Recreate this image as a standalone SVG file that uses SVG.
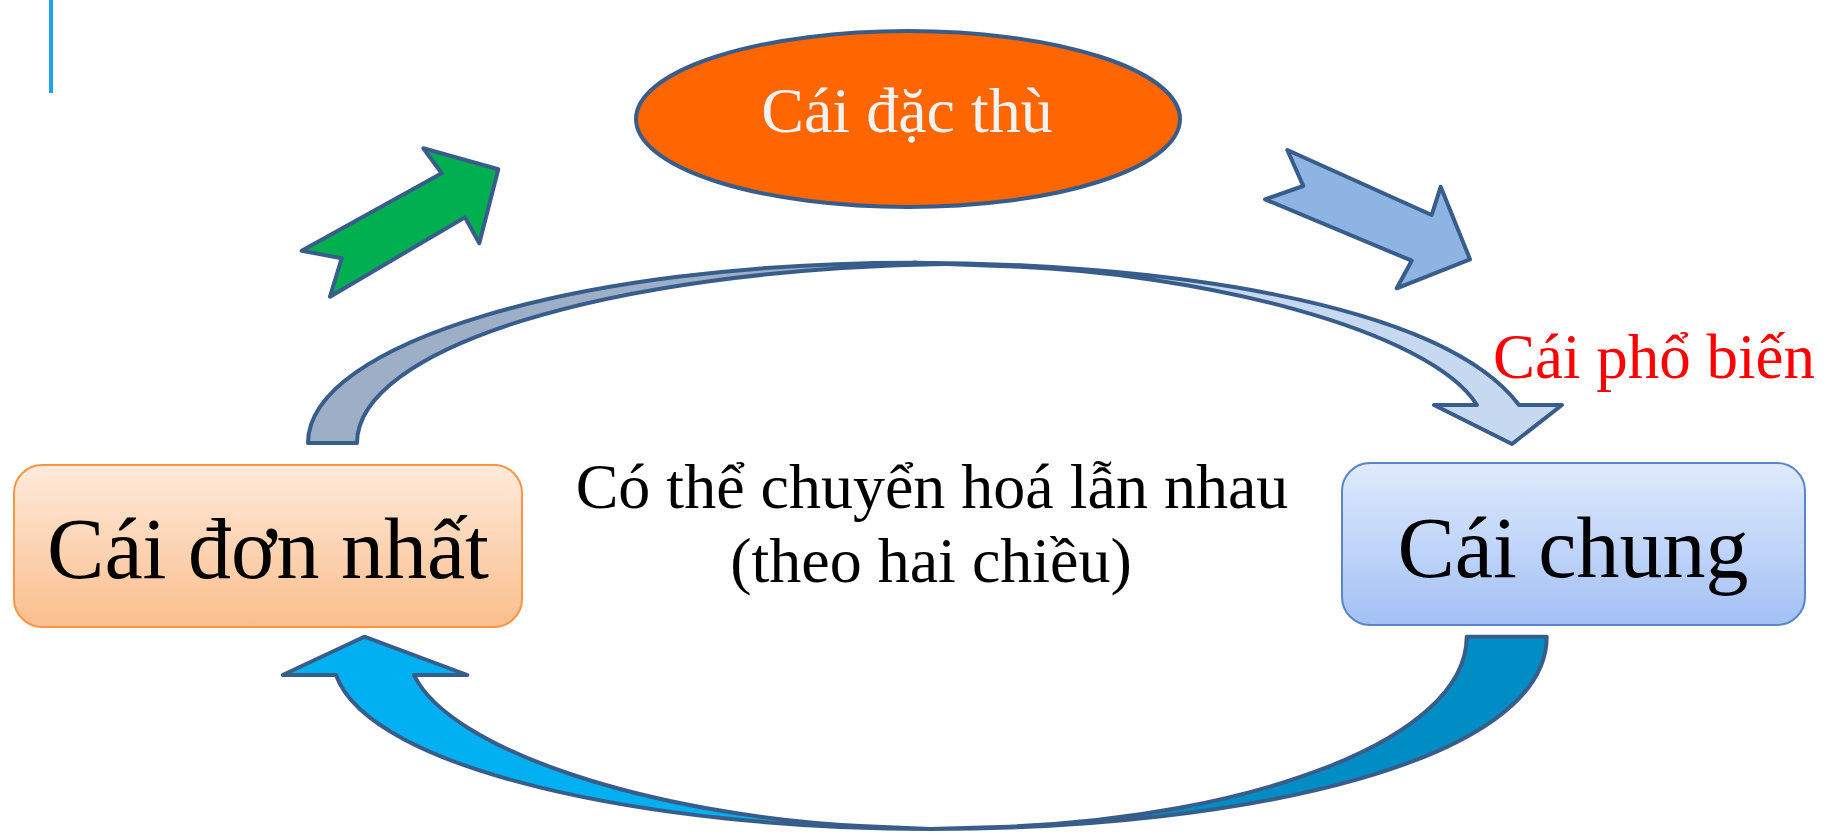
<svg xmlns="http://www.w3.org/2000/svg" width="1825" height="833" viewBox="0 0 1825 833">
<defs>
<linearGradient id="gOrange" x1="0" y1="0" x2="0" y2="1">
<stop offset="0" stop-color="#FEEADB"/>
<stop offset="1" stop-color="#FBBE8C"/>
</linearGradient>
<linearGradient id="gBlue" x1="0" y1="0" x2="0" y2="1">
<stop offset="0" stop-color="#DFEAFC"/>
<stop offset="1" stop-color="#A3C1F5"/>
</linearGradient>
<style>
.arr{stroke:#385D8A;stroke-width:4;stroke-linejoin:round}
.t{font-family:"Liberation Serif","Times New Roman",serif}
</style>
</defs>
<rect width="1825" height="833" fill="#FFFFFF"/>
<line x1="51" y1="0" x2="51" y2="93" stroke="#1FA3E6" stroke-width="4"/>

<g id="node-dac-thu">
<ellipse cx="908" cy="119" rx="272" ry="88" fill="#FF6600" stroke="#385D8A" stroke-width="4"/>
<text class="t" x="907" y="132" font-size="64" fill="#F2F2F2" text-anchor="middle">Cái đặc thù</text>
</g>

<g id="node-don-nhat">
<rect x="14" y="465" width="508" height="162" rx="28" fill="url(#gOrange)" stroke="#F79646" stroke-width="2"/>
<text class="t" x="268" y="578" font-size="86" fill="#000000" text-anchor="middle">Cái đơn nhất</text>
</g>

<g id="node-chung">
<rect x="1342" y="463" width="463" height="162" rx="28" fill="url(#gBlue)" stroke="#5A86C8" stroke-width="2"/>
<text class="t" x="1573" y="577" font-size="86" fill="#000000" text-anchor="middle">Cái chung</text>
</g>

<g id="label-center">
<text class="t" x="932" y="508" font-size="64" fill="#000000" text-anchor="middle">Có thể chuyển hoá lẫn nhau</text>
<text class="t" x="931" y="582" font-size="64" fill="#000000" text-anchor="middle">(theo hai chiều)</text>
</g>

<g id="label-pho-bien">
<text class="t" x="1493" y="378" font-size="63" fill="#FF0000">Cái phổ biến</text>
</g>

<g id="connectors">
<path class="arr" fill="#00B050" d="M301.7,250.7 L341.7,258.3 L330,296.7 L465,217.3 L479.3,243.3 L498.3,169.3 L423.3,148.3 L441.7,173.3 Z"/>
<path class="arr" fill="#8EB4E3" d="M1287.3,150 L1303.3,186 L1265,199.3 L1411.7,260.7 L1396.7,288.3 L1470,259.3 L1440.7,186.7 L1431.7,215 Z"/>
<path class="arr" fill="#9DAFC7" d="M308,443 C308,343 579,262.7 913,262.7 L945,264 C600,270 357,350 357,443 Z"/>
<path class="arr" fill="#C6D9F1" d="M913,262.7 C1150,263 1440,300 1519,405 L1562,405 L1512,444 L1434,405 L1477,405 C1430,330 1200,272 1000,266 Z"/>
<path class="arr" fill="#008CC4" d="M1466.7,636.7 L1546.7,636.7 C1546.7,760 1250,829 930,829 L1000,827 C1250,818 1466.7,740 1466.7,636.7 Z"/>
<path class="arr" fill="#00B0F0" d="M336,675 L282.7,675 L364.3,636.7 L467.3,675 L414,675 C450,750 650,815 860,826 L930,829 C650,829 370,770 336,675 Z"/>
</g>
</svg>
